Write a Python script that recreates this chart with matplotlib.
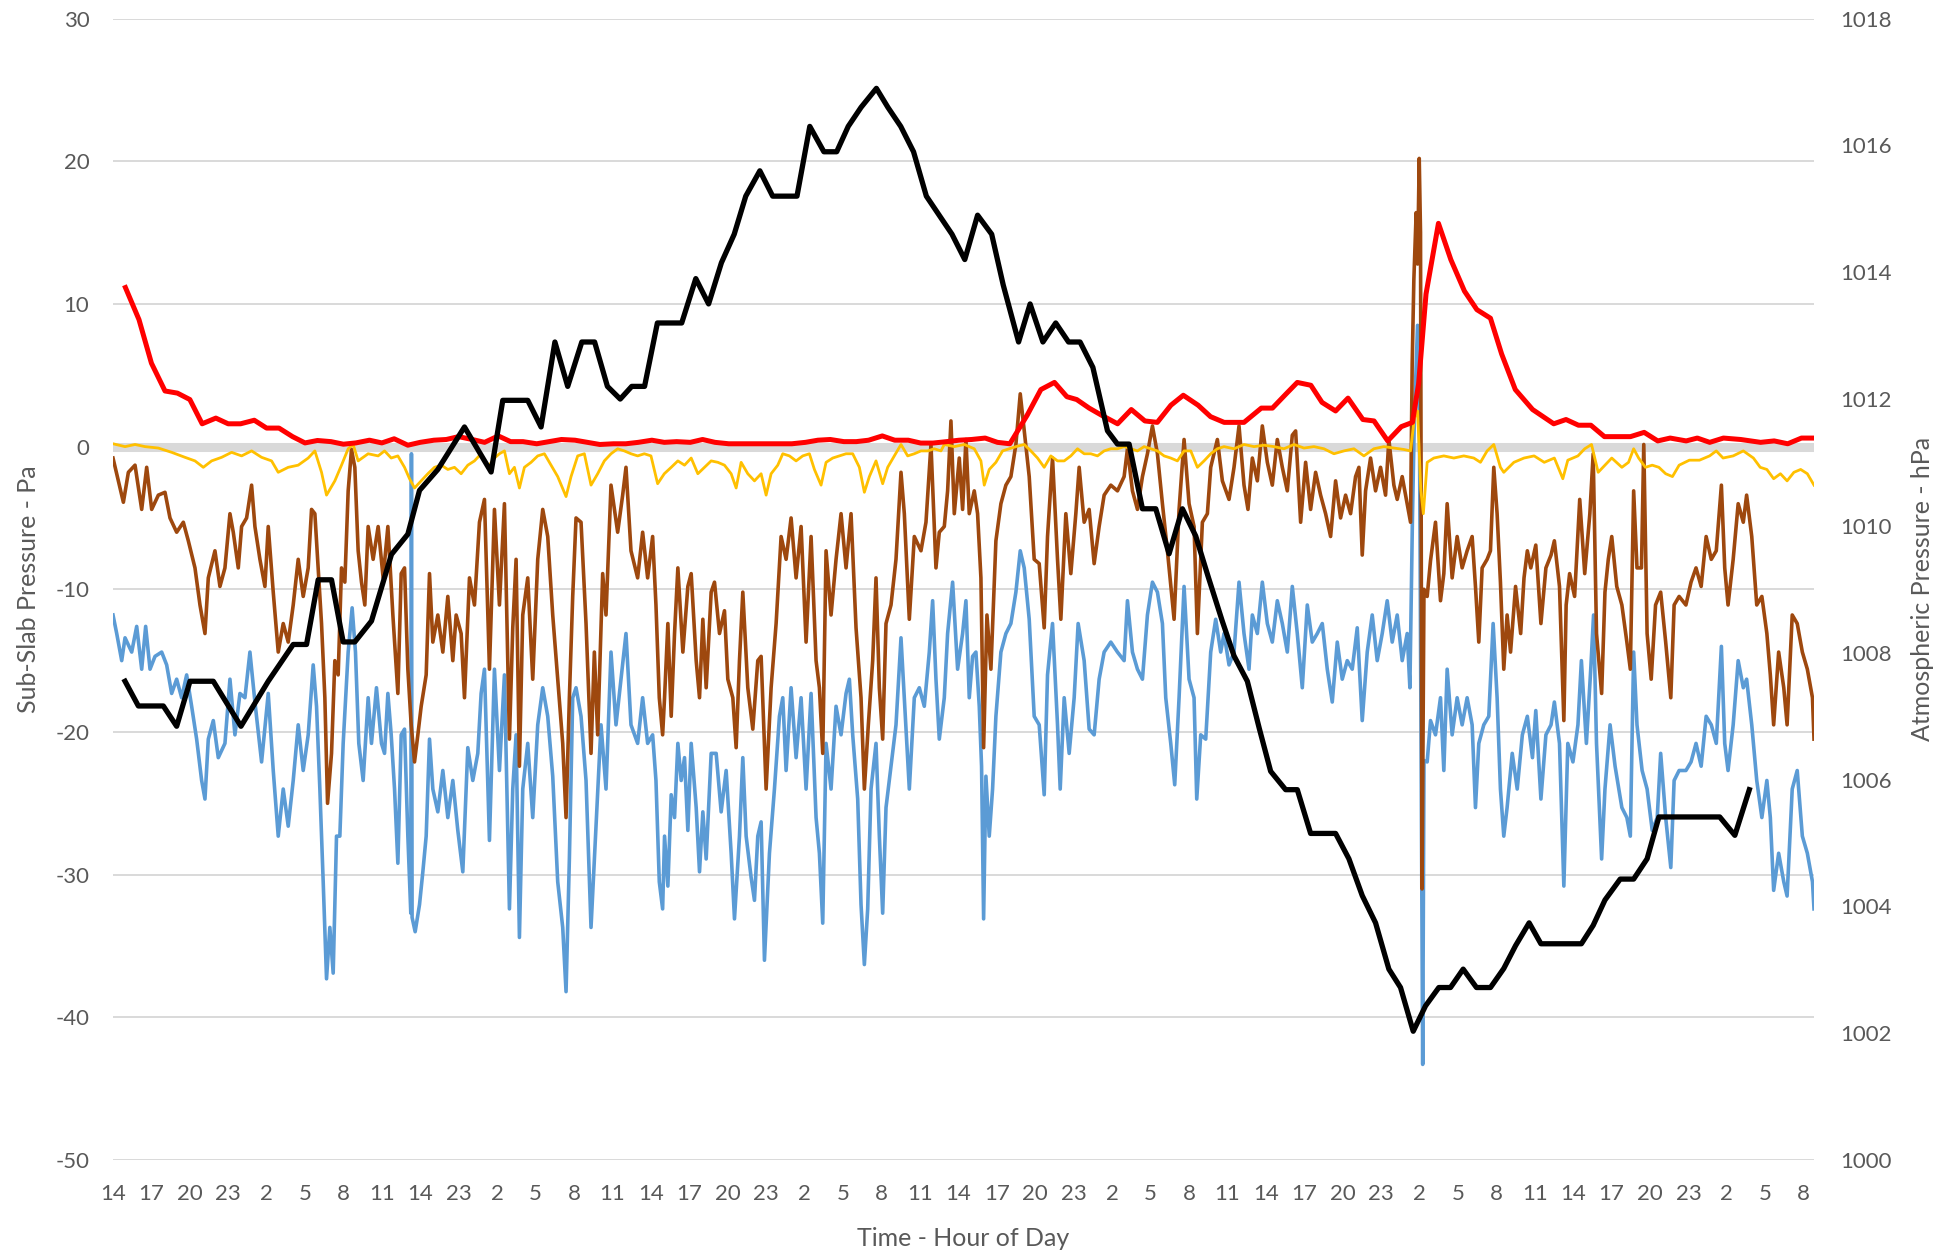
import matplotlib
matplotlib.use("Agg")
import matplotlib.pyplot as plt
import numpy as np

plt.rcParams['font.family'] = ['Lato', 'DejaVu Sans']
plt.rcParams['axes.unicode_minus'] = False

# ---------------- data ----------------
x_tick_labels = ['14','17','20','23','2','5','8','11','14','23',
                 '2','5','8','11','14','17','20','23',
                 '2','5','8','11','14','17','20','23',
                 '2','5','8','11','14','17','20','23',
                 '2','5','8','11','14','17','20','23',
                 '2','5','8']
hours_per_label = 3

# Atmospheric pressure (hPa, right axis)
atm_t = [0.94,1.98,3.93,4.97,6.01,7.83,9.99,12.12,14.07,15.11,16.02,17.06,17.97,18.88,20.18,21.74,
         23.02,23.93,25.36,27.44,29.52,30.43,32.38,33.42,34.5,35.5,36.6,37.6,38.6,39.6,40.5,41.5,
         42.5,44.4,45.5,46.5,47.5,48.5,49.4,50.5,51.5,53.4,54.4,55.5,56.5,57.4,58.4,59.6,60.5,
         61.5,62.5,63.5,64.5,65.5,66.5,67.5,68.6,69.5,70.7,71.6,72.6,73.6,74.6,75.5,76.5,77.64,
         78.42,79.33,80.37,81.41,82.45,83.49,84.53,85.5,86.6,87.52,88.56,89.5,90.38,91.55,92.46,
         93.5,95.45,96.49,97.53,98.57,99.61,100.52,101.51,102.47,103.51,104.42,105.41,106.45,
         107.54,108.58,109.5,110.56,111.48,114.64,115.56,116.48,117.67,118.72,119.77,120.69,
         125.44,126.62,127.75]
atm_v = [1007.55,1007.16,1007.16,1006.84,1007.55,1007.55,1006.84,1007.55,1008.13,1008.13,1009.15,
         1009.15,1008.17,1008.17,1008.5,1009.55,1009.87,1010.56,1010.89,1011.56,1010.85,1011.98,
         1011.98,1011.56,1012.9,1012.2,1012.9,1012.9,1012.2,1012.0,1012.2,1012.2,1013.2,1013.2,
         1013.9,1013.5,1014.15,1014.6,1015.2,1015.6,1015.2,1015.2,1016.3,1015.9,1015.9,1016.3,
         1016.6,1016.9,1016.6,1016.3,1015.9,1015.2,1014.9,1014.6,1014.2,1014.9,1014.6,1013.8,
         1012.9,1013.5,1012.9,1013.2,1012.9,1012.9,1012.5,1011.5,1011.29,1011.29,1010.27,1010.27,
         1009.56,1010.27,1009.84,1009.2,1008.5,1007.95,1007.55,1006.8,1006.13,1005.84,1005.84,
         1005.15,1005.15,1004.75,1004.17,1003.74,1003.01,1002.72,1002.03,1002.43,1002.72,1002.72,
         1003.01,1002.72,1002.72,1003.02,1003.38,1003.74,1003.41,1003.41,1003.70,1004.10,1004.43,
         1004.43,1004.75,1005.41,1005.41,1005.12,1005.84]

# Red series (Pa)
red_t = [0.97,2.03,3.0,4.06,5.03,6.0,6.96,8.03,8.99,9.96,11.03,11.99,12.96,14.02,14.99,15.96,17.02,
         17.99,18.96,20.02,20.99,21.95,23.02,23.98,25.05,26.02,26.98,28.05,29.01,30.08,31.04,32.01,
         33.08,34.04,35.01,36.07,37.04,38.01,39.07,40.04,41.01,42.07,43.04,44.0,45.07,46.03,47.0,
         48.07,49.03,50.0,51.06,52.03,53.0,54.06,55.03,56.0,57.06,58.03,58.99,60.06,61.03,62.09,
         63.06,64.02,65.09,66.05,67.02,68.09,69.05,70.02,71.37,72.44,73.5,74.47,75.24,76.21,77.18,
         78.43,79.5,80.56,81.53,82.59,83.56,84.72,85.69,86.75,88.3,89.65,90.52,91.59,92.46,93.52,
         94.39,95.45,96.42,97.58,98.45,99.52,100.58,101.45,101.93,102.51,103.48,104.45,105.51,
         106.48,107.54,108.41,109.48,110.83,112.48,113.44,114.41,115.38,116.44,118.47,119.54,
         120.6,121.57,122.82,123.69,124.66,125.73,127.08,128.63,129.69,130.75,131.82,132.69]
red_v = [11.15,8.9,5.85,3.9,3.75,3.3,1.6,2.0,1.6,1.6,1.85,1.3,1.3,0.7,0.26,0.43,0.35,0.17,0.26,0.45,
         0.26,0.55,0.1,0.3,0.45,0.5,0.7,0.5,0.3,0.75,0.35,0.35,0.2,0.35,0.5,0.45,0.3,0.15,0.2,0.2,
         0.3,0.45,0.3,0.35,0.3,0.5,0.3,0.2,0.2,0.2,0.2,0.2,0.2,0.3,0.45,0.5,0.35,0.35,0.45,0.75,
         0.45,0.45,0.25,0.25,0.35,0.45,0.5,0.6,0.3,0.2,2.2,4.0,4.5,3.5,3.3,2.7,2.2,1.6,2.6,1.8,1.7,
         2.9,3.6,2.9,2.1,1.7,1.7,2.7,2.7,3.7,4.5,4.3,3.1,2.5,3.4,1.9,1.8,0.4,1.4,1.7,4.4,10.7,15.65,
         13.1,10.9,9.6,9.0,6.5,4.0,2.6,1.6,1.9,1.5,1.5,0.7,0.7,1.0,0.4,0.6,0.4,0.6,0.3,0.6,0.5,0.3,
         0.4,0.2,0.6,0.6]

# Yellow series (Pa)
yel_t = [0.0,0.94,1.72,2.5,3.54,4.58,5.62,6.4,7.05,7.7,8.48,9.26,10.04,10.82,11.6,12.38,12.9,13.68,
         14.46,15.24,15.76,16.28,16.67,17.32,17.84,18.36,18.75,19.14,19.92,20.7,
         21.2,21.72,22.24,22.76,23.15,23.54,24.06,24.58,25.1,25.62,26.14,26.66,27.18,27.7,28.22,
         28.74,29.26,29.78,30.17,30.56,30.95,31.34,31.73,32.12,32.64,33.16,33.68,34.2,34.72,35.37,
         35.76,36.28,36.8,37.32,37.84,38.36,38.88,39.4,39.92,40.44,40.96,41.48,42.0,42.52,43.04,
         43.58,44.1,44.62,45.14,45.66,46.18,46.7,47.22,47.74,48.26,48.65,49.04,49.56,50.08,50.6,
         50.99,51.38,51.9,52.29,52.81,53.33,53.85,54.37,54.76,55.28,55.67,56.19,56.71,57.23,57.75,
         58.27,58.66,59.05,59.57,60.09,60.48,61.0,61.52,62.04,62.56,63.08,63.6,64.12,64.64,
         64.9,65.68,66.46,67.24,67.76,68.02,68.41,68.93,69.45,69.97,70.49,71.14,71.66,72.18,72.7,
         73.22,73.74,74.26,74.78,75.3,75.82,76.34,76.86,77.38,77.9,78.42,78.94,79.46,79.98,80.5,
         81.02,81.54,82.06,82.58,83.1,83.62,84.14,84.66,85.18,85.7,86.22,
         86.74,87.52,88.3,89.08,89.86,90.64,91.42,92.2,92.98,93.76,94.54,95.32,96.1,96.88,97.66,
         98.44,99.22,100.0,100.78,101.3,101.6,101.85,102.1,102.3,102.6,103.12,103.9,104.68,105.46,
         106.24,106.76,107.28,107.8,108.32,
         108.58,109.37,110.16,110.95,111.74,112.53,113.19,113.58,114.37,114.9,115.43,115.95,116.48,
         117.01,117.8,118.32,118.72,119.11,119.64,120.17,120.69,121.22,121.75,122.27,123.07,123.86,
         124.65,125.17,125.7,126.49,127.28,128.07,128.6,129.12,129.65,130.18,130.7,131.23,131.76,
         132.28,132.8]
yel_v = [0.2,0,0.15,0,-0.1,-0.4,-0.75,-1.0,-1.45,-1.0,-0.75,-0.4,-0.65,-0.3,-0.75,-1.0,-1.8,-1.45,
         -1.3,-0.8,-0.3,-1.8,-3.4,-2.4,-1.3,-0.15,0.15,-1.0,-0.5,-0.65,
         -0.3,-0.8,-0.65,-1.45,-2.25,-2.9,-2.4,-1.9,-1.45,-1.3,-1.6,-1.45,-1.9,-1.3,-1.0,-0.5,-1.45,
         -0.8,-0.5,-0.3,-1.9,-1.45,-2.9,-1.45,-1.1,-0.65,-0.5,-1.3,-2.1,-3.5,-2.1,-0.65,-0.5,-2.7,
         -1.9,-1.0,-0.5,-0.15,-0.3,-0.5,-0.65,-0.5,-0.65,-2.6,-1.9,
         -1.45,-1.0,-1.3,-0.8,-1.9,-1.45,-1.0,-1.1,-1.3,-1.9,-2.9,-1.1,-1.9,-2.4,-1.9,-3.4,-1.9,
         -1.3,-0.5,-0.65,-1.0,-0.65,-0.5,-1.6,-2.7,-1.1,-0.8,-0.65,-0.5,-0.5,-1.45,-3.2,-2.1,-1.0,
         -2.6,-1.45,-0.65,0.15,-0.65,-0.5,-0.3,-0.3,-0.15,-0.3,
         0.15,0,0.15,-0.15,-1.0,-2.7,-1.6,-1.1,-0.3,-0.15,0,0.15,-0.3,-0.8,-1.45,-0.65,-1.0,-1.0,
         -0.65,-0.15,-0.5,-0.5,-0.65,-0.3,-0.15,-0.15,0,-0.15,-0.3,0,-0.15,-0.3,-0.65,-0.8,-1.0,
         -0.3,-0.3,-1.45,-1.0,-0.5,-0.15,
         0,-0.15,0.15,0,0.1,0,-0.15,0.15,-0.1,0,-0.15,-0.5,-0.3,-0.15,-0.65,-0.15,0,-0.1,-0.2,-0.3,
         2.0,2.5,-3.0,-4.7,-1.1,-0.8,-0.65,-0.8,-0.65,-0.8,-1.1,-0.3,0.15,-1.45,
         -1.8,-1.1,-0.8,-0.65,-1.1,-0.8,-2.25,-0.95,-0.65,-0.15,0.15,-1.8,-1.3,-0.8,-1.45,-1.1,
         -0.15,-0.8,-1.45,-1.3,-1.45,-1.9,-2.1,-1.3,-0.95,-0.95,-0.65,-0.3,-0.8,-0.65,-0.3,-0.8,
         -1.45,-1.6,-2.25,-1.9,-2.4,-1.8,-1.6,-1.9,-2.7]

# Brown series (Pa)
brn_t = [0.0,0.29,0.81,1.2,1.72,2.24,2.63,3.02,3.54,4.06,4.45,4.97,5.49,5.88,6.4,6.79,7.18,7.44,7.96,
         8.35,8.74,9.13,9.39,9.78,10.04,10.43,10.82,11.08,11.47,11.86,12.12,12.51,12.9,13.29,13.68,
         14.07,14.46,14.85,15.24,15.5,15.76,16.02,16.28,16.54,16.75,17.06,17.32,17.58,17.84,18.1,
         18.36,18.62,18.88,19.14,19.4,19.66,19.92,20.31,20.7,21.09,
         21.46,21.85,22.24,22.5,22.76,23.02,23.28,23.54,23.8,24.06,24.45,24.71,24.97,25.36,25.75,
         26.14,26.53,26.79,27.18,27.44,27.83,28.22,28.61,29.0,29.39,29.78,30.17,30.56,30.95,31.21,
         31.47,31.73,31.99,32.38,32.77,33.16,33.55,33.94,34.33,34.72,35.11,35.37,35.63,35.89,36.15,
         36.54,36.93,37.32,37.58,37.84,38.23,38.49,38.88,39.4,39.79,40.05,40.44,40.96,41.35,41.74,
         42.13,42.39,42.65,42.91,
         43.06,43.32,43.58,43.84,44.1,44.49,44.88,45.14,45.53,45.79,46.05,46.31,46.7,46.96,47.35,
         47.74,48.0,48.39,48.65,48.91,49.17,49.56,49.95,50.34,50.6,50.99,51.38,51.77,52.16,52.55,
         52.94,53.33,53.72,54.11,54.5,54.89,55.15,55.41,55.67,56.06,56.45,56.84,57.23,57.62,58.01,
         58.4,58.66,58.97,59.31,59.57,59.83,60.09,60.35,60.74,61.13,61.52,61.78,62.17,62.56,63.08,
         63.47,63.86,64.25,64.51,
         64.9,65.16,65.42,65.68,66.07,66.33,66.59,66.85,67.24,67.5,67.76,67.97,68.23,68.54,68.93,
         69.32,69.71,70.1,70.49,70.83,71.14,71.53,71.92,72.31,72.7,72.96,73.35,73.74,74.0,74.39,
         74.78,75.17,75.43,75.82,76.21,76.6,76.99,77.38,77.9,78.42,78.94,79.2,79.59,79.98,80.37,
         80.76,81.15,81.54,81.93,82.32,82.84,83.23,83.62,84.01,84.4,84.66,85.05,85.44,85.7,86.22,
         86.61,
         87.13,87.52,87.91,88.3,88.61,88.95,89.34,89.73,90.12,90.51,90.9,91.29,91.68,92.07,92.33,
         92.72,93.11,93.5,93.89,94.28,94.67,95.06,95.45,95.84,96.23,96.62,97.01,97.27,97.53,97.79,
         98.18,98.57,98.96,99.35,99.61,100.0,100.26,100.65,101.04,101.3,101.43,101.56,101.74,
         101.85,101.98,102.08,102.2,102.35,102.6,102.86,103.25,103.64,103.9,104.16,104.55,104.94,
         105.33,105.72,106.11,106.37,106.63,106.89,107.28,107.54,107.8,108.06,108.32,
         108.58,108.84,109.11,109.5,109.9,110.16,110.42,110.69,111.08,111.48,111.87,112.27,112.53,
         112.93,113.27,113.45,113.72,114.11,114.51,114.9,115.3,115.56,115.82,116.22,116.48,116.74,
         117.01,117.4,117.8,118.19,118.46,118.72,118.98,119.33,119.51,119.77,120.09,120.43,120.83,
         121.22,121.62,121.88,122.27,122.8,123.2,123.59,123.99,124.38,124.78,125.17,125.57,125.83,
         126.09,126.49,126.88,127.28,127.54,127.94,128.33,128.73,129.12,129.39,129.65,130.04,
         130.44,130.7,131.1,131.49,131.89,132.28,132.68,132.8]
brn_v = [-0.8,-1.9,-3.9,-1.8,-1.3,-4.4,-1.45,-4.4,-3.4,-3.2,-5.0,-6.0,-5.3,-6.6,-8.5,-11.1,-13.1,-9.2,
         -7.3,-9.8,-8.5,-4.7,-6.0,-8.5,-5.6,-5.0,-2.7,-5.6,-7.9,-9.8,-5.6,-10.2,-14.4,-12.4,-13.7,
         -11.1,-7.9,-10.5,-8.5,-4.4,-4.7,-8.5,-12.4,-17.6,-25.0,-21.5,-15.0,-16.0,-8.5,-9.5,-3.1,
         -0.2,-1.45,-7.3,-9.5,-11.1,-5.6,-7.9,-5.6,-9.2,
         -5.6,-11.8,-17.3,-8.9,-8.5,-15.6,-19.5,-22.1,-20.2,-18.2,-16.0,-8.9,-13.7,-11.8,-14.4,
         -10.5,-15.0,-11.8,-13.1,-17.6,-9.2,-11.1,-5.3,-3.7,-15.6,-4.4,-11.1,-4.0,-20.5,-12.7,-7.9,
         -22.4,-11.8,-9.2,-16.3,-7.9,-4.4,-6.3,-11.8,-16.3,-20.8,-26.0,-17.6,-10.5,-5.0,-5.3,-12.4,
         -21.5,-14.4,-20.2,-8.9,-11.8,-2.7,-6.0,-3.4,-1.45,-7.3,-9.2,-6.0,-9.2,-6.3,-11.1,-17.6,
         -20.2,
         -17.6,-12.4,-18.9,-13.1,-8.5,-14.4,-9.8,-8.9,-15.0,-17.6,-12.1,-16.9,-10.2,-9.5,-13.1,
         -11.5,-16.3,-17.6,-21.1,-15.0,-10.2,-16.9,-19.8,-15.0,-14.7,-24.0,-16.9,-12.4,-6.3,-7.9,
         -5.0,-9.2,-5.6,-13.7,-6.3,-15.0,-16.9,-21.5,-7.3,-11.8,-7.9,-4.7,-8.5,-4.7,-12.7,-17.6,
         -24.0,-19.5,-15.0,-9.2,-16.9,-20.5,-12.4,-11.1,-7.9,-1.8,-4.7,-12.1,-6.3,-7.3,-5.3,0.15,
         -8.5,-6.0,
         -5.6,-3.1,1.8,-4.7,-0.8,-4.4,0.5,-4.7,-3.1,-4.7,-9.2,-21.1,-11.8,-15.6,-6.6,-4.0,-2.7,
         -2.1,0.15,3.7,1.1,-2.1,-7.9,-8.2,-12.7,-6.3,-0.8,-7.9,-12.1,-4.7,-8.9,-4.7,-1.45,-5.3,
         -4.4,-8.2,-5.6,-3.4,-2.7,-3.1,-2.1,-0.15,-3.1,-4.4,-2.1,-0.5,1.45,-0.5,-4.0,-7.3,-12.1,
         -4.4,0.5,-4.0,-5.6,-13.1,-5.3,-4.7,-1.45,0.5,-2.4,
         -3.7,-1.45,1.45,-2.7,-4.4,-0.8,-2.4,1.45,-1.1,-2.7,0.5,-1.45,-3.1,0.8,1.1,-5.3,-1.1,-4.4,
         -1.8,-3.4,-4.7,-6.3,-2.4,-5.0,-3.4,-4.7,-2.1,-1.45,-7.6,-3.1,-0.8,-3.1,-1.45,-3.4,0.5,
         -2.7,-3.7,-2.1,-4.0,-5.3,5.8,11.7,16.4,12.8,20.2,15.0,-31.0,-10.0,-10.5,-8.0,-5.3,-10.8,
         -8.9,-4.0,-9.2,-6.3,-8.5,-7.3,-6.3,-9.8,-13.7,-8.5,-7.9,-7.3,-1.45,-4.7,-9.5,
         -15.6,-11.8,-14.4,-9.8,-13.1,-9.2,-7.3,-8.5,-6.9,-12.4,-8.5,-7.6,-6.6,-9.8,-19.2,-11.1,
         -8.9,-10.5,-3.7,-8.9,-4.7,-0.5,-13.1,-17.3,-10.2,-7.9,-6.3,-9.8,-11.1,-13.7,-15.6,-3.1,
         -8.5,-8.5,0.15,-13.1,-16.3,-11.1,-10.2,-13.7,-17.6,-11.1,-10.5,-11.1,-9.5,-8.5,-9.8,-6.3,
         -7.9,-7.3,-2.7,-8.5,-11.1,-7.9,-4.0,-5.3,-3.4,-6.3,-11.1,-10.5,-13.1,-16.0,-19.5,-14.4,
         -16.9,-19.5,-11.8,-12.4,-14.4,-15.6,-17.6,-20.5]

# Blue series (Pa)
blu_t = [0.0,0.29,0.68,0.94,1.46,1.85,2.24,2.55,2.89,3.28,3.8,4.19,4.58,4.97,5.36,5.75,6.14,6.53,6.92,
         7.18,7.44,7.83,8.22,8.74,9.13,9.52,9.91,10.3,10.69,11.08,11.6,12.12,12.51,12.9,13.29,13.68,
         14.07,14.46,14.85,15.24,15.63,15.89,16.15,16.41,16.67,16.93,17.19,17.45,17.71,17.97,18.36,
         18.67,18.93,19.19,19.53,19.92,20.18,20.57,20.96,
         21.2,21.46,21.72,21.98,22.24,22.5,22.76,23.02,23.25,23.3,23.35,23.59,23.93,24.19,24.45,
         24.71,24.97,25.36,25.75,26.14,26.53,26.92,27.31,27.7,28.09,28.48,28.74,29.0,29.39,29.78,
         30.17,30.56,30.95,31.21,31.47,31.73,31.99,32.38,32.77,33.16,33.55,33.94,34.33,34.72,35.11,
         35.37,35.63,35.89,36.15,36.54,36.93,37.32,37.71,38.1,38.49,38.88,39.27,39.66,40.05,40.44,
         40.96,41.35,41.74,42.13,42.39,42.65,42.91,
         43.06,43.32,43.58,43.84,44.1,44.36,44.62,44.88,45.14,45.53,45.79,46.05,46.31,46.7,47.09,
         47.48,47.87,48.26,48.52,48.91,49.17,49.43,49.82,50.08,50.34,50.6,50.86,51.25,51.64,52.03,
         52.29,52.55,52.94,53.33,53.72,54.11,54.5,54.89,55.15,55.41,55.67,56.06,56.45,56.84,57.23,
         57.49,57.75,58.14,58.4,58.66,58.92,59.18,59.57,59.83,60.09,60.35,60.74,61.13,61.52,61.78,
         62.17,62.56,62.95,63.34,63.73,63.99,64.25,64.51,
         64.9,65.16,65.55,65.94,66.33,66.59,66.85,67.11,67.37,67.63,67.81,67.97,68.15,68.41,68.67,
         68.93,69.32,69.71,70.1,70.49,70.83,71.14,71.53,71.92,72.31,72.7,72.96,73.35,73.74,73.95,
         74.26,74.65,75.04,75.35,75.82,76.21,76.6,76.99,77.38,77.9,78.42,78.94,79.2,79.59,79.98,
         80.37,80.76,81.15,81.54,81.93,82.19,82.58,82.89,83.23,83.62,84.01,84.4,84.61,84.92,85.31,
         85.7,86.09,86.48,
         86.74,87.13,87.52,87.91,88.3,88.69,88.95,89.34,89.73,90.12,90.51,90.9,91.29,91.68,92.07,
         92.46,92.85,93.24,93.63,94.02,94.41,94.8,95.19,95.58,95.97,96.36,96.75,97.14,97.53,97.92,
         98.31,98.7,99.09,99.48,99.87,100.26,100.65,101.04,101.25,101.45,101.6,101.85,102.0,102.25,
         102.35,102.6,102.86,103.25,103.64,103.9,104.16,104.55,104.94,105.33,105.72,106.11,106.37,
         106.63,107.02,107.41,107.75,108.06,108.32,
         108.58,108.84,109.24,109.63,110.03,110.42,110.82,111.08,111.48,111.87,112.27,112.53,
         112.93,113.27,113.58,113.98,114.37,114.64,115.03,115.37,115.59,115.82,116.22,116.48,
         116.88,117.27,117.8,118.19,118.46,118.72,118.98,119.38,119.77,120.17,120.56,120.83,
         121.22,121.62,121.88,122.27,122.8,123.2,123.59,123.99,124.38,124.78,125.17,125.57,125.83,
         126.09,126.49,126.88,127.28,127.54,127.94,128.33,128.73,129.12,129.39,129.65,130.04,
         130.44,130.7,131.1,131.49,131.89,132.28,132.68,132.8]
blu_v = [-11.8,-13.1,-15.0,-13.4,-14.4,-12.6,-15.6,-12.6,-15.6,-14.7,-14.4,-15.3,-17.3,-16.3,-17.6,
         -16.0,-18.2,-20.5,-23.4,-24.7,-20.5,-19.2,-21.8,-20.8,-16.3,-20.2,-17.3,-17.6,-14.4,-17.9,
         -22.1,-17.3,-22.7,-27.3,-24.0,-26.6,-23.4,-19.5,-22.7,-20.2,-15.3,-18.2,-24.0,-30.5,-37.3,
         -33.7,-36.9,-27.3,-27.3,-20.8,-14.4,-11.3,-14.4,-20.8,-23.4,-17.6,-20.8,-16.9,-20.8,
         -21.5,-17.3,-20.2,-24.0,-29.2,-20.2,-19.8,-27.3,-32.7,-0.5,-33.0,-34.0,-32.1,-29.8,-27.3,
         -20.5,-24.0,-25.6,-22.7,-26.0,-23.4,-26.9,-29.8,-21.1,-23.4,-21.5,-17.3,-15.6,-27.6,-15.6,
         -22.7,-16.0,-32.4,-24.0,-20.2,-34.4,-24.0,-20.8,-26.0,-19.5,-16.9,-18.9,-23.1,-30.5,-33.7,
         -38.2,-28.9,-17.6,-16.9,-18.9,-23.4,-33.7,-26.6,-19.5,-24.0,-14.4,-19.5,-16.3,-13.1,-19.5,
         -20.8,-17.6,-20.8,-20.2,-23.4,-30.5,-32.4,
         -27.3,-30.8,-24.4,-26.0,-20.8,-23.4,-21.8,-26.9,-20.8,-25.3,-29.8,-25.6,-28.9,-21.5,-21.5,
         -25.6,-22.7,-28.5,-33.1,-27.3,-21.8,-27.3,-30.2,-31.8,-27.3,-26.3,-36.0,-28.5,-24.0,-18.9,
         -17.6,-22.7,-16.9,-21.8,-17.6,-24.0,-17.3,-26.0,-28.5,-33.4,-20.8,-24.0,-18.2,-20.2,-17.3,
         -16.3,-20.2,-24.7,-32.1,-36.3,-32.4,-24.0,-20.8,-27.3,-32.7,-25.3,-22.4,-19.5,-13.4,-17.6,
         -24.0,-17.6,-16.9,-18.2,-14.4,-10.8,-16.3,-20.5,
         -17.6,-13.1,-9.5,-15.6,-13.1,-10.8,-17.6,-14.7,-14.4,-18.2,-22.4,-33.1,-23.1,-27.3,-24.0,
         -18.9,-14.4,-13.1,-12.4,-10.2,-7.3,-8.5,-12.1,-18.9,-19.5,-24.4,-16.0,-12.4,-19.5,-24.0,
         -17.6,-21.5,-17.6,-12.4,-15.0,-19.8,-20.2,-16.3,-14.4,-13.7,-14.4,-15.0,-10.8,-14.4,-15.6,
         -16.3,-11.8,-9.5,-10.2,-12.4,-17.6,-20.8,-23.7,-17.6,-9.8,-16.3,-17.6,-24.7,-20.2,-20.5,
         -14.4,-12.1,-14.4,
         -13.1,-15.3,-14.4,-9.5,-13.1,-15.6,-11.8,-13.1,-9.5,-12.4,-13.7,-10.8,-12.4,-14.4,-9.8,
         -13.1,-16.9,-11.1,-13.7,-13.1,-12.4,-15.6,-17.9,-13.7,-16.3,-15.0,-15.6,-12.7,-19.2,-14.4,
         -11.8,-15.0,-13.1,-10.8,-13.7,-11.8,-15.0,-13.1,-16.9,-5.0,2.0,8.5,1.0,-43.3,-22.0,-22.1,
         -19.2,-20.2,-17.6,-22.7,-15.6,-20.2,-17.6,-19.5,-17.6,-19.5,-25.3,-20.8,-19.5,-18.9,-12.4,
         -17.6,-24.0,
         -27.3,-25.3,-21.5,-24.0,-20.2,-18.9,-21.8,-18.5,-24.7,-20.2,-19.5,-17.9,-20.8,-30.8,-20.8,
         -22.1,-19.5,-15.0,-20.8,-15.6,-11.8,-20.8,-28.9,-24.0,-19.5,-22.4,-25.3,-26.0,-27.3,-14.4,
         -19.5,-22.7,-24.0,-26.9,-26.0,-21.5,-26.0,-29.5,-23.4,-22.7,-22.7,-22.1,-20.8,-22.4,-18.9,
         -19.5,-20.8,-14.0,-20.8,-22.7,-19.5,-15.0,-16.9,-16.3,-19.5,-23.4,-26.0,-23.4,-26.0,-31.1,
         -28.5,-30.5,-31.5,-24.0,-22.7,-27.3,-28.5,-30.5,-32.4]

# ---------------- plot ----------------
W, H = 1944, 1259
fig = plt.figure(figsize=(W / 100, H / 100), dpi=100)
left, right = 113 / W, 1814 / W
bottom, top = 1 - 1160 / H, 1 - 18.6 / H
ax = fig.add_axes([left, bottom, right - left, top - bottom])
ax2 = ax.twinx()

grid_c = '#D9D9D9'
text_c = '#595959'

ax.set_ylim(-50, 30)
ax.set_yticks(np.arange(-50, 31, 10))
ax.yaxis.grid(True, color=grid_c, lw=1.4)
ax.set_axisbelow(True)
ax.axhline(0, color=grid_c, lw=6.5, zorder=1)

ax.plot(blu_t, blu_v, color='#5B9BD5', lw=2.6, zorder=3)
ax.plot(brn_t, brn_v, color='#9E480E', lw=2.6, zorder=4)
ax.plot(yel_t, yel_v, color='#FFC000', lw=2.0, zorder=5)
ax.plot(red_t, red_v, color='#FF0000', lw=3.6, zorder=6, solid_joinstyle='round')

ax2.plot(atm_t, atm_v, color='#000000', lw=3.8, zorder=7, solid_joinstyle='round')
ax2.set_ylim(1000, 1018)
ax2.set_yticks(np.arange(1000, 1019, 2))

n_lab = len(x_tick_labels)
ax.set_xlim(0, 132.8)
ax.set_xticks(np.arange(n_lab) * hours_per_label)
ax.set_xticklabels(x_tick_labels)

for a in (ax, ax2):
    for s in a.spines.values():
        s.set_visible(False)
ax.tick_params(axis='x', length=0, pad=17, labelsize=16, colors=text_c)
ax.tick_params(axis='y', length=0, pad=17, labelsize=16, colors=text_c)
ax2.tick_params(axis='y', length=0, pad=19, labelsize=16, colors=text_c)

ax.set_xlabel('Time - Hour of Day', fontsize=18, color=text_c, labelpad=17)
ax.set_ylabel('Sub-Slab Pressure - Pa', fontsize=18, color=text_c, labelpad=11)
ax2.set_ylabel('Atmospheric Pressure - hPa', fontsize=18, color=text_c, labelpad=14)
ax2.set_zorder(ax.get_zorder() + 1)
ax2.patch.set_visible(False)

fig.savefig('out.png', dpi=100, facecolor='white')
